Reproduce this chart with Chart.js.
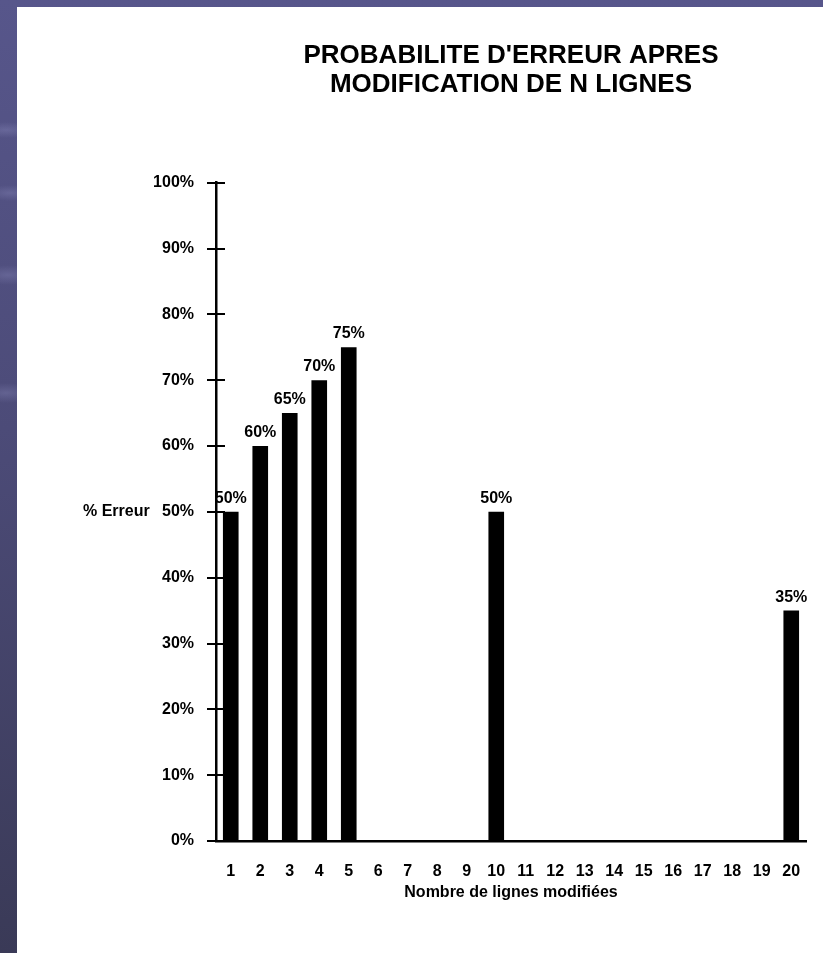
<!DOCTYPE html>
<html lang="fr">
<head>
<meta charset="utf-8">
<title>Probabilité d'erreur après modification de N lignes</title>
<script src="https://cdn.jsdelivr.net/npm/chart.js@4/dist/chart.umd.min.js"></script>
<style>
  html, body { margin: 0; padding: 0; }
  body {
    width: 823px; height: 953px; overflow: hidden; position: relative;
    background:
      radial-gradient(ellipse 30px 8px at 6px 130px, rgba(150,150,200,0.3), rgba(150,150,200,0) 100%),
      radial-gradient(ellipse 26px 8px at 10px 193px, rgba(150,150,200,0.3), rgba(150,150,200,0) 100%),
      radial-gradient(ellipse 30px 10px at 8px 275px, rgba(150,150,200,0.3), rgba(150,150,200,0) 100%),
      radial-gradient(ellipse 30px 10px at 6px 393px, rgba(150,150,200,0.3), rgba(150,150,200,0) 100%),
      linear-gradient(to bottom, #57568b 0%, #4c4b78 45%, #3a3a57 100%);
  }
  #sheet {
    position: absolute; left: 17px; top: 7px; width: 806px; height: 946px;
    background: #ffffff;
  }
  #sheet canvas { display: block; }
</style>
</head>
<body>
<div id="sheet"><canvas id="chart" width="806" height="946"></canvas></div>
<script>
// Nombre de lignes modifiées (1 à 20)
const categories = ['1','2','3','4','5','6','7','8','9','10','11','12','13','14','15','16','17','18','19','20'];
// Probabilité d'erreur (%) ; pas de mesure pour les autres valeurs de N
const errorRates = [50, 60, 65, 70, 75, null, null, null, null, 50, null, null, null, null, null, null, null, null, null, 35];
const yTicks = [0, 10, 20, 30, 40, 50, 60, 70, 80, 90, 100];
const titleLines = ["PROBABILITE D'ERREUR APRES", 'MODIFICATION DE N LIGNES'];
const xTitle = 'Nombre de lignes modifiées';
const yTitle = '% Erreur';

const FONT = '"Liberation Sans", Arial, Helvetica, sans-serif';

// Étiquettes de valeur au-dessus des barres, petits traits côté intérieur de l'axe et libellé "% Erreur"
const decorations = {
  id: 'decorations',
  afterDraw(chart) {
    const ctx = chart.ctx;
    const y = chart.scales.y;
    const area = chart.chartArea;
    ctx.save();
    // traits de graduation traversant l'axe
    ctx.strokeStyle = '#000';
    ctx.lineWidth = 2;
    y.ticks.forEach(t => {
      const py = Math.round(y.getPixelForValue(t.value));
      ctx.beginPath();
      ctx.moveTo(area.left, py);
      ctx.lineTo(area.left + 9, py);
      ctx.stroke();
    });
    // valeurs au-dessus des barres
    ctx.fillStyle = '#000';
    ctx.font = 'bold 16px ' + FONT;
    ctx.textAlign = 'center';
    ctx.textBaseline = 'alphabetic';
    const meta = chart.getDatasetMeta(0);
    meta.data.forEach((bar, i) => {
      const v = errorRates[i];
      if (v === null || v === undefined) return;
      ctx.fillText(v + '%', bar.x, bar.y - 9);
    });
    // libellé de l'axe des ordonnées, à la hauteur de 50 %
    ctx.textAlign = 'left';
    ctx.textBaseline = 'middle';
    ctx.fillText(yTitle, 66, y.getPixelForValue(50));
    ctx.restore();
  }
};

new Chart(document.getElementById('chart'), {
  type: 'bar',
  data: {
    labels: categories,
    datasets: [{
      data: errorRates,
      backgroundColor: '#000000',
      borderWidth: 0,
      barPercentage: 0.53,
      categoryPercentage: 1.0
    }]
  },
  options: {
    responsive: false,
    animation: false,
    layout: { padding: { left: 133, right: 17, top: 0, bottom: 42 } },
    plugins: {
      legend: { display: false },
      tooltip: { enabled: false },
      title: {
        display: true,
        text: titleLines,
        fullSize: false,
        color: '#000',
        font: { family: FONT, size: 26, weight: 'bold', lineHeight: 1.09 },
        padding: { top: 35, bottom: 84 }
      }
    },
    scales: {
      x: {
        type: 'category',
        grid: { display: false },
        border: { display: true, color: '#000', width: 2.5 },
        ticks: {
          color: '#000',
          padding: 13,
          maxRotation: 0,
          autoSkip: false,
          font: { family: FONT, size: 16, weight: 'bold' }
        },
        title: {
          display: true,
          text: xTitle,
          color: '#000',
          font: { family: FONT, size: 16, weight: 'bold' },
          padding: { top: 0, bottom: 9 }
        },
        afterFit(scale) { scale.height = 70; }
      },
      y: {
        min: 0,
        max: 100,
        afterBuildTicks(scale) { scale.ticks = yTicks.map(v => ({ value: v })); },
        grid: {
          display: true,
          drawOnChartArea: false,
          drawTicks: true,
          tickLength: 9,
          color: '#000',
          lineWidth: 2
        },
        border: { display: true, color: '#000', width: 2.5 },
        ticks: {
          color: '#000',
          padding: 13,
          font: { family: FONT, size: 16, weight: 'bold' },
          callback: v => v + '%'
        },
        afterFit(scale) { scale.width = 66; }
      }
    }
  },
  plugins: [decorations]
});
</script>
</body>
</html>
